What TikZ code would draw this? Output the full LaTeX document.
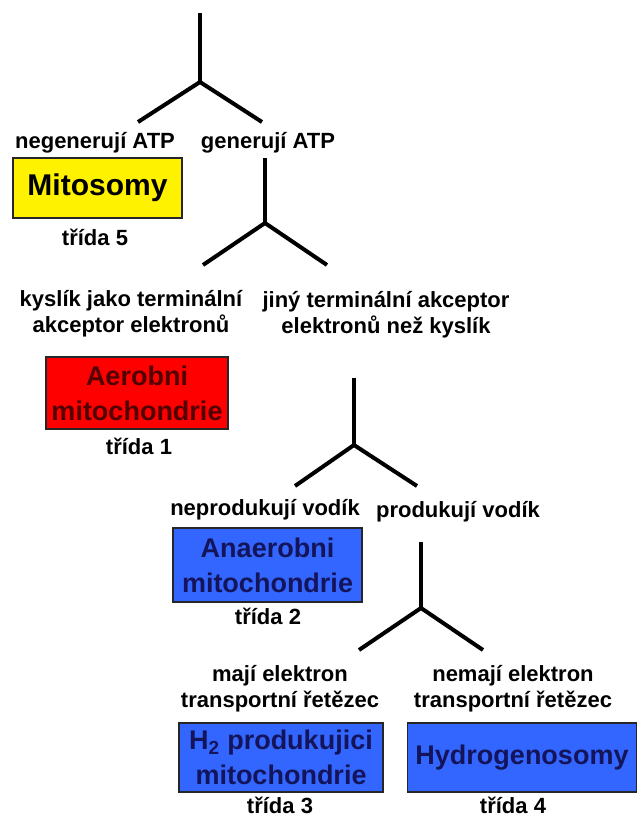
\documentclass[tikz,border=0pt]{standalone}
\usepackage{fontspec}
\setmainfont{Liberation Sans}
\definecolor{modra}{RGB}{51,102,255}
\definecolor{tmavomodra}{RGB}{20,20,90}
\definecolor{tmavocervena}{RGB}{80,0,0}
\begin{document}
\begin{tikzpicture}[
        x=1pt,
        y=-1pt,
        vetev/.style={line width=4pt},
        popis/.style={font=\fontsize{22}{26}\selectfont\bfseries, align=center, inner sep=0pt},
        krabice/.style={draw=black!85, line width=1.5pt, inner sep=0pt, align=center,
            font=\fontsize{27}{35}\selectfont\bfseries}]

%Hranice obrazku
\useasboundingbox (0,0) rectangle (638,819);

%Vetveni 1
\coordinate (v1) at (200,13);
\coordinate (r1) at (200,82);
\coordinate (l1) at (138,122);
\coordinate (p1) at (262,122);
\draw[vetev] (v1)--(r1);
\draw[vetev] (l1)--(r1)--(p1);

\node[popis] (neg) at (95,143) {negenerují ATP};
\node[popis] (gen) at (268,143) {generují ATP};
\node[krabice, fill=yellow, text=black, font=\fontsize{30}{35}\selectfont\bfseries, minimum width=169, minimum height=60] (mito) at (97.5,188) {Mitosomy};
\node[popis] (tr5) at (95,237) {třída 5};

%Vetveni 2
\coordinate (v2) at (265,158);
\coordinate (r2) at (265,223);
\coordinate (l2) at (203,265);
\coordinate (p2) at (327,265);
\draw[vetev] (v2)--(r2);
\draw[vetev] (l2)--(r2)--(p2);

\node[popis] (kys) at (131,314) {kyslík jako terminální\\akceptor elektronů};
\node[popis] (jiny) at (386,315) {jiný terminální akceptor\\elektronů než kyslík};
\node[krabice, fill=red, text=tmavocervena, minimum width=182, minimum height=72] (aer) at (137,393) {Aerobni\\mitochondrie};
\node[popis] (tr1) at (139,446) {třída 1};

%Vetveni 3
\coordinate (v3) at (354,378);
\coordinate (r3) at (354,445);
\coordinate (l3) at (295,486);
\coordinate (p3) at (417,486);
\draw[vetev] (v3)--(r3);
\draw[vetev] (l3)--(r3)--(p3);

\node[popis] (nepro) at (265,510) {neprodukují vodík};
\node[popis] (pro) at (458,512) {produkují vodík};
\node[krabice, fill=modra, text=tmavomodra, minimum width=189, minimum height=74] (anaer) at (267.5,565) {Anaerobni\\mitochondrie};
\node[popis] (tr2) at (268,616) {třída 2};

%Vetveni 4
\coordinate (v4) at (421,542);
\coordinate (r4) at (421,608);
\coordinate (l4) at (359,650);
\coordinate (p4) at (483,650);
\draw[vetev] (v4)--(r4);
\draw[vetev] (l4)--(r4)--(p4);

\node[popis] (maji) at (280,689) {mají elektron\\transportní řetězec};
\node[popis] (nemaji) at (513,689) {nemají elektron\\transportní řetězec};
\node[krabice, fill=modra, text=tmavomodra, minimum width=204, minimum height=69] (vodik) at (281,757.5) {H\textsubscript{2} produkujici\\mitochondrie};
\node[krabice, fill=modra, text=tmavomodra, minimum width=229, minimum height=69] (hydro) at (522,757.5) {Hydrogenosomy};
\node[popis] (tr3) at (280,805) {třída 3};
\node[popis] (tr4) at (513,805) {třída 4};

\end{tikzpicture}
\end{document}
